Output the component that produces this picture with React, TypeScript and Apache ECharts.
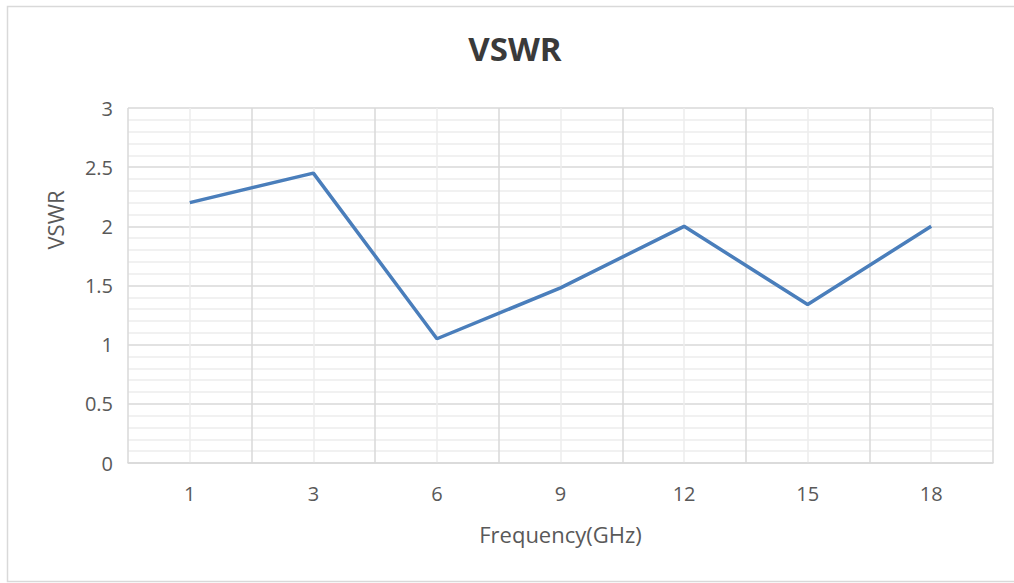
import React, { useEffect, useRef } from "react";
import * as echarts from "echarts";

const categories = ["1", "3", "6", "9", "12", "15", "18"];
const vswrValues = [2.2, 2.45, 1.05, 1.48, 2.0, 1.34, 2.0];
const yTicks = { min: 0, max: 3, interval: 0.5 };

const FONT = "'Open Sans', sans-serif";

export default function App() {
  const ref = useRef<HTMLDivElement>(null);
  useEffect(() => {
    document.body.style.margin = "0";
    const chart = echarts.init(ref.current!, null, { renderer: "svg" });
    chart.setOption({
      animation: false,
      backgroundColor: "#ffffff",
      title: {
        text: "VSWR",
        left: 510,
        top: 27,
        textAlign: "center",
        textStyle: { fontFamily: FONT, fontWeight: "bold", fontSize: 33, color: "#3a3a3a" },
      },
      graphic: [
        {
          type: "rect",
          shape: { x: 7.5, y: 6.5, width: 1030, height: 575 },
          style: { fill: "none", stroke: "#d9d9d9", lineWidth: 1.5 },
          silent: true,
        },
        {
          type: "text",
          x: 55,
          y: 220,
          rotation: Math.PI / 2,
          style: {
            text: "VSWR",
            fontFamily: FONT,
            fontSize: 22,
            fill: "#595959",
            align: "center",
            verticalAlign: "middle",
          },
        },
      ],
      grid: { left: 128, right: 21, top: 108, bottom: 120, containLabel: false },
      xAxis: [
        {
          type: "category",
          data: categories,
          boundaryGap: true,
          name: "Frequency(GHz)",
          nameLocation: "middle",
          nameGap: 60,
          nameTextStyle: { fontFamily: FONT, fontSize: 22, color: "#595959" },
          axisLine: { show: true, lineStyle: { color: "#d9d9d9", width: 1.5 } },
          axisTick: { show: false },
          axisLabel: { fontFamily: FONT, fontSize: 20, color: "#595959", margin: 20 },
          splitLine: { show: false },
          z: 3,
        },
        {
          type: "value",
          min: 0,
          max: 7,
          interval: 1,
          show: true,
          axisLine: { show: false },
          axisTick: { show: false },
          axisLabel: { show: false },
          splitLine: { show: true, lineStyle: { color: "#d9d9d9", width: 1.5 } },
          minorTick: { show: false, splitNumber: 2 },
          minorSplitLine: { show: true, lineStyle: { color: "#ececec", width: 1.5 } },
        },
      ],
      yAxis: {
        type: "value",
        min: yTicks.min,
        max: yTicks.max,
        interval: yTicks.interval,
        axisLine: { show: false },
        axisTick: { show: false },
        axisLabel: {
          fontFamily: FONT,
          fontSize: 20,
          color: "#595959",
          margin: 15,
          formatter: (v: number) => String(v),
        },
        splitLine: { show: true, lineStyle: { color: "#d9d9d9", width: 1.5 } },
        minorTick: { show: false, splitNumber: 5 },
        minorSplitLine: { show: true, lineStyle: { color: "#ececec", width: 1.5 } },
      },
      series: [
        {
          type: "line",
          xAxisIndex: 0,
          data: vswrValues,
          showSymbol: false,
          symbol: "none",
          lineStyle: { color: "#4a7ebb", width: 3.5 },
          itemStyle: { color: "#4a7ebb" },
          z: 5,
        },
      ],
    });
    return () => chart.dispose();
  }, []);
  return <div ref={ref} style={{ width: 1014, height: 583 }} />;
}
